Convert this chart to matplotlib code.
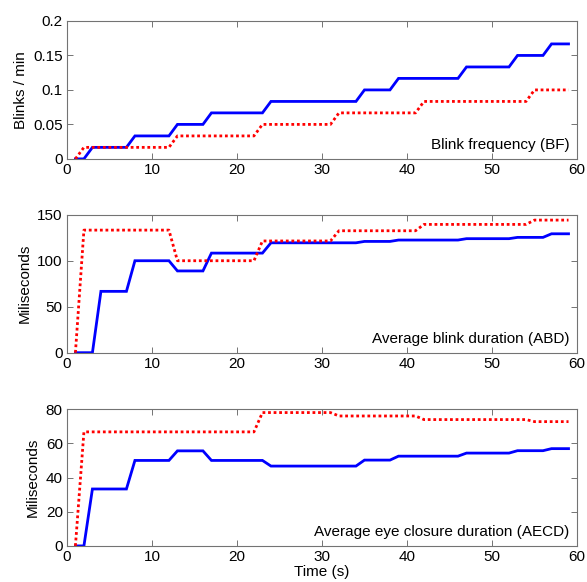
"""
Cumulative blink metrics over a 60 s recording: frequency, average blink
duration and average eye closure duration for two subjects.
"""

import matplotlib
matplotlib.use("Agg")
import matplotlib.pyplot as plt

# ── Data (one sample per second, t = 1 … 59) ─────────────────────────────────

time_s = list(range(1, 60))

bf_blue = [
    0, 0, 0.0167, 0.0167, 0.0167, 0.0167, 0.0167, 0.0333, 0.0333, 0.0333,
    0.0333, 0.0333, 0.05, 0.05, 0.05, 0.05, 0.0667, 0.0667, 0.0667, 0.0667,
    0.0667, 0.0667, 0.0667, 0.0833, 0.0833, 0.0833, 0.0833, 0.0833, 0.0833, 0.0833,
    0.0833, 0.0833, 0.0833, 0.0833, 0.1, 0.1, 0.1, 0.1, 0.1167, 0.1167,
    0.1167, 0.1167, 0.1167, 0.1167, 0.1167, 0.1167, 0.1333, 0.1333, 0.1333, 0.1333,
    0.1333, 0.1333, 0.15, 0.15, 0.15, 0.15, 0.1667, 0.1667, 0.1667,
]
bf_red = [
    0, 0.0167, 0.0167, 0.0167, 0.0167, 0.0167, 0.0167, 0.0167, 0.0167, 0.0167,
    0.0167, 0.0167, 0.0333, 0.0333, 0.0333, 0.0333, 0.0333, 0.0333, 0.0333, 0.0333,
    0.0333, 0.0333, 0.05, 0.05, 0.05, 0.05, 0.05, 0.05, 0.05, 0.05,
    0.05, 0.0667, 0.0667, 0.0667, 0.0667, 0.0667, 0.0667, 0.0667, 0.0667, 0.0667,
    0.0667, 0.0833, 0.0833, 0.0833, 0.0833, 0.0833, 0.0833, 0.0833, 0.0833, 0.0833,
    0.0833, 0.0833, 0.0833, 0.0833, 0.1, 0.1, 0.1, 0.1, 0.1,
]

abd_blue = [
    0, 0, 0, 66.7, 66.7, 66.7, 66.7, 100, 100, 100,
    100, 100, 88.9, 88.9, 88.9, 88.9, 108.3, 108.3, 108.3, 108.3,
    108.3, 108.3, 108.3, 119.5, 119.5, 119.5, 119.5, 119.5, 119.5, 119.5,
    119.5, 119.5, 119.5, 119.5, 121, 121, 121, 121, 122.5, 122.5,
    122.5, 122.5, 122.5, 122.5, 122.5, 122.5, 124, 124, 124, 124,
    124, 124, 125.4, 125.4, 125.4, 125.4, 129.3, 129.3, 129.3,
]
abd_red = [
    0, 133.3, 133.3, 133.3, 133.3, 133.3, 133.3, 133.3, 133.3, 133.3,
    133.3, 133.3, 100, 100, 100, 100, 100, 100, 100, 100,
    100, 100, 121.5, 121.5, 121.5, 121.5, 121.5, 121.5, 121.5, 121.5,
    121.5, 132.6, 132.6, 132.6, 132.6, 132.6, 132.6, 132.6, 132.6, 132.6,
    132.6, 139.5, 139.5, 139.5, 139.5, 139.5, 139.5, 139.5, 139.5, 139.5,
    139.5, 139.5, 139.5, 139.5, 144.2, 144.2, 144.2, 144.2, 144.2,
]

aecd_blue = [
    0, 0, 33.3, 33.3, 33.3, 33.3, 33.3, 50, 50, 50,
    50, 50, 55.6, 55.6, 55.6, 55.6, 50, 50, 50, 50,
    50, 50, 50, 46.7, 46.7, 46.7, 46.7, 46.7, 46.7, 46.7,
    46.7, 46.7, 46.7, 46.7, 50.2, 50.2, 50.2, 50.2, 52.5, 52.5,
    52.5, 52.5, 52.5, 52.5, 52.5, 52.5, 54.3, 54.3, 54.3, 54.3,
    54.3, 54.3, 55.7, 55.7, 55.7, 55.7, 56.9, 56.9, 56.9,
]
aecd_red = [
    0, 66.7, 66.7, 66.7, 66.7, 66.7, 66.7, 66.7, 66.7, 66.7,
    66.7, 66.7, 66.7, 66.7, 66.7, 66.7, 66.7, 66.7, 66.7, 66.7,
    66.7, 66.7, 78, 78, 78, 78, 78, 78, 78, 78,
    78, 76, 76, 76, 76, 76, 76, 76, 76, 76,
    76, 73.9, 73.9, 73.9, 73.9, 73.9, 73.9, 73.9, 73.9, 73.9,
    73.9, 73.9, 73.9, 73.9, 72.7, 72.7, 72.7, 72.7, 72.7,
]

x_ticks = [0, 10, 20, 30, 40, 50, 60]
bf_ticks = [0, 0.05, 0.1, 0.15, 0.2]
bf_tick_labels = ["0", "0.05", "0.1", "0.15", "0.2"]
abd_ticks = [0, 50, 100, 150]
aecd_ticks = [0, 20, 40, 60, 80]

panels = [
    ("Blinks / min", "Blink frequency (BF)", bf_blue, bf_red, bf_ticks, bf_tick_labels),
    ("Miliseconds", "Average blink duration (ABD)", abd_blue, abd_red, abd_ticks, None),
    ("Miliseconds", "Average eye closure duration (AECD)", aecd_blue, aecd_red, aecd_ticks, None),
]

# ── Figure ────────────────────────────────────────────────────────────────────

plt.rcParams["font.family"] = ["Liberation Sans", "DejaVu Sans"]
plt.rcParams["font.size"] = 11

fig = plt.figure(figsize=(5.87, 5.82), dpi=100)

# axes rectangles, top to bottom
rects = [
    (0.114, 0.727, 0.869, 0.237),
    (0.114, 0.394, 0.869, 0.237),
    (0.114, 0.062, 0.869, 0.235),
]

for rect, (ylabel, title, blue, red, yticks, ylabels) in zip(rects, panels):
    ax = fig.add_axes(rect)
    ax.plot(time_s, blue, color="blue", linewidth=2.0, solid_joinstyle="miter")
    ax.plot(time_s, red, color="red", linewidth=2.0, linestyle=(0, (1, 1)))

    ax.set_xlim(0, 60)
    ax.set_ylim(yticks[0], yticks[-1])
    ax.set_xticks(x_ticks)
    ax.set_yticks(yticks)
    if ylabels is not None:
        ax.set_yticklabels(ylabels)

    ax.tick_params(direction="in", top=True, right=True, length=4,
                   width=0.7, color="0.45", pad=3, labelcolor="black")
    for spine in ax.spines.values():
        spine.set_color("0.45")
        spine.set_linewidth(0.8)

    ax.set_ylabel(ylabel, labelpad=4)
    ax.text(0.985, 0.05, title, transform=ax.transAxes, ha="right", va="bottom")

ax.set_xlabel("Time (s)", labelpad=1)

fig.savefig("out.png", dpi=100)
